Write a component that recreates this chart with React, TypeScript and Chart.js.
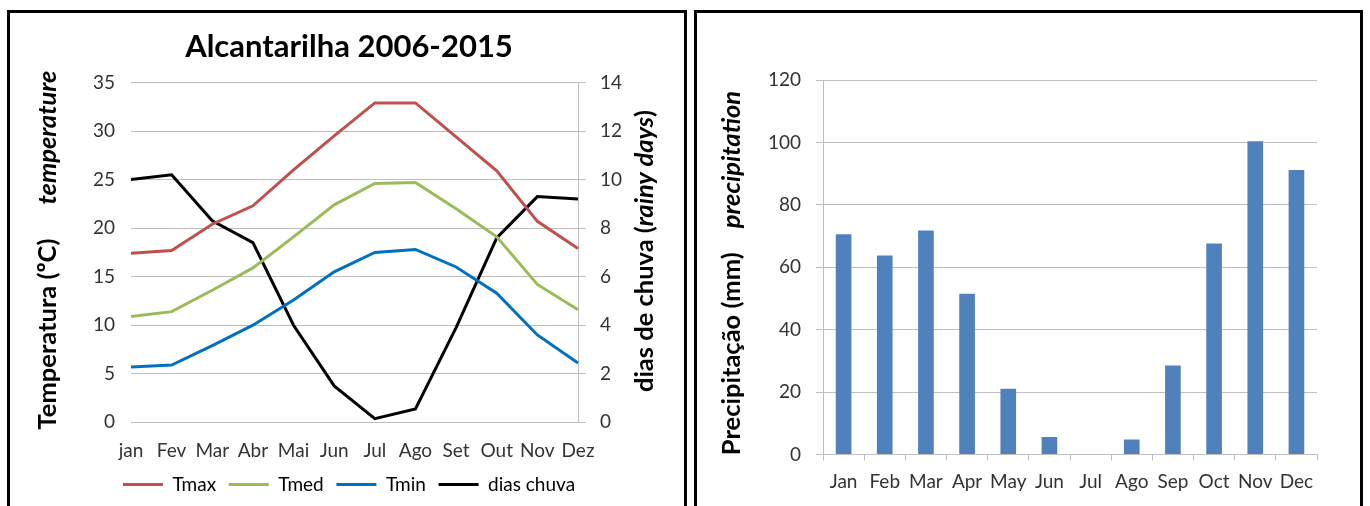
import React, { useEffect, useRef } from 'react';
import { Chart, registerables } from 'chart.js';

Chart.register(...registerables);

// ---- data ----
const monthsPT = ['jan', 'Fev', 'Mar', 'Abr', 'Mai', 'Jun', 'Jul', 'Ago', 'Set', 'Out', 'Nov', 'Dez'];
const tmax = [17.4, 17.7, 20.4, 22.3, 26.0, 29.5, 32.9, 32.9, 29.4, 25.9, 20.7, 17.9];
const tmed = [10.9, 11.4, 13.6, 15.9, 19.1, 22.4, 24.6, 24.7, 22.0, 19.1, 14.2, 11.6];
const tmin = [5.7, 5.9, 7.9, 10.0, 12.6, 15.5, 17.5, 17.8, 16.0, 13.3, 9.0, 6.1];
const diasChuva = [10.0, 10.2, 8.3, 7.4, 4.0, 1.5, 0.15, 0.55, 3.9, 7.6, 9.3, 9.2];

const monthsEN = ['Jan', 'Feb', 'Mar', 'Apr', 'May', 'Jun', 'Jul', 'Ago', 'Sep', 'Oct', 'Nov', 'Dec'];
const precipitation = [70.6, 63.8, 71.8, 51.5, 21.1, 5.6, 0, 4.8, 28.5, 67.6, 100.4, 91.2];

const tempTicks = [0, 5, 10, 15, 20, 25, 30, 35];
const rainDayTicks = [0, 2, 4, 6, 8, 10, 12, 14];
const precipTicks = [0, 20, 40, 60, 80, 100, 120];

// ---- styles ----
const RED = '#C0504D';
const GREEN = '#9BBB59';
const BLUE_LINE = '#0070C0';
const BAR_BLUE = '#4F81BD';
const GRID = '#bfbfbf';
const TICK = '#333333';
const FAMILY = 'Lato';
const tickFont = { family: FAMILY, size: 19 };

type Part = { text: string; italic?: boolean; gap?: number };
type VTitle = { x: number; y: number; size: number; parts: Part[] };

function makeTitlePlugin(id: string, titles: VTitle[]) {
  return {
    id,
    afterDraw(chart: any) {
      const ctx = chart.ctx as CanvasRenderingContext2D;
      for (const t of titles) {
        ctx.save();
        ctx.translate(t.x, t.y);
        ctx.rotate(-Math.PI / 2);
        ctx.textBaseline = 'middle';
        ctx.textAlign = 'left';
        ctx.fillStyle = '#000';
        const fonts = t.parts.map(p => `${p.italic ? 'italic ' : ''}bold ${t.size}px ${FAMILY}`);
        const widths = t.parts.map((p, i) => {
          ctx.font = fonts[i];
          return ctx.measureText(p.text).width + (p.gap || 0);
        });
        const total = widths.reduce((a, b) => a + b, 0);
        let x = -total / 2;
        t.parts.forEach((p, i) => {
          x += p.gap || 0;
          ctx.font = fonts[i];
          ctx.fillText(p.text, x, 0);
          x += widths[i] - (p.gap || 0);
        });
        ctx.restore();
      }
    },
  };
}

function fixedTicks(values: number[]) {
  return (scale: any) => {
    scale.ticks = values.map(v => ({ value: v }));
  };
}

export default function App() {
  const leftRef = useRef<HTMLCanvasElement>(null);
  const rightRef = useRef<HTMLCanvasElement>(null);

  useEffect(() => {
    const lineDs = (label: string, data: number[], color: string, axis: string) => ({
      label,
      data,
      borderColor: color,
      backgroundColor: color,
      borderWidth: 3,
      pointRadius: 0,
      tension: 0,
      yAxisID: axis,
    });

    const leftTitles = makeTitlePlugin('leftTitles', [
      { x: 38, y: 237, size: 25.5, parts: [{ text: 'Temperatura (ºC)' }, { text: 'temperature', italic: true, gap: 34 }] },
      { x: 635, y: 238, size: 25.5, parts: [{ text: 'dias de chuva (' }, { text: 'rainy days', italic: true }, { text: ')' }] },
    ]);

    const c1 = new Chart(leftRef.current as HTMLCanvasElement, {
      type: 'line',
      data: {
        labels: monthsPT,
        datasets: [
          lineDs('Tmax', tmax, RED, 'y'),
          lineDs('Tmed', tmed, GREEN, 'y'),
          lineDs('Tmin', tmin, BLUE_LINE, 'y'),
          lineDs('dias chuva', diasChuva, '#000', 'y1'),
        ],
      },
      options: {
        animation: false,
        responsive: false,
        devicePixelRatio: 1,
        layout: { padding: { left: 4, right: 0, top: 0, bottom: 2 } },
        plugins: {
          title: {
            display: true,
            text: 'Alcantarilha 2006-2015',
            color: '#000',
            font: { family: FAMILY, size: 31, weight: 'bold' },
            padding: { top: 15.5, bottom: 16.8 },
          },
          legend: {
            position: 'bottom',
            labels: {
              boxWidth: 40,
              boxHeight: 3,
              padding: 12.7,
              color: '#000',
              font: { family: FAMILY, size: 19 },
              generateLabels: (chart: any) =>
                Chart.defaults.plugins.legend.labels.generateLabels(chart).map((it: any) => ({ ...it, lineWidth: 0 })),
            },
          },
          tooltip: { enabled: false },
        },
        scales: {
          x: {
            grid: { display: false, drawTicks: false },
            border: { display: false },
            ticks: { padding: 17, color: TICK, font: tickFont, maxRotation: 0, autoSkip: false },
            afterFit: (s: any) => { s.height = 40; },
          },
          y: {
            position: 'left',
            min: 0,
            max: 35,
            grid: { color: GRID, drawTicks: false },
            border: { display: false },
            ticks: { padding: 16, color: TICK, font: tickFont },
            afterBuildTicks: fixedTicks(tempTicks),
            afterFit: (s: any) => { s.width = 117; },
          },
          y1: {
            position: 'right',
            min: 0,
            max: 14,
            grid: { drawOnChartArea: false, color: GRID, tickLength: 8 },
            border: { display: true, color: GRID },
            ticks: { padding: 14, color: TICK, font: tickFont },
            afterBuildTicks: fixedTicks(rainDayTicks),
            afterFit: (s: any) => { s.width = 106; },
          },
        },
      },
      plugins: [leftTitles],
    } as any);

    const rightTitles = makeTitlePlugin('rightTitles', [
      { x: 35, y: 260, size: 25.5, parts: [{ text: 'Precipitação (mm)' }, { text: 'precipitation', italic: true, gap: 24 }] },
    ]);

    const c2 = new Chart(rightRef.current as HTMLCanvasElement, {
      type: 'bar',
      data: {
        labels: monthsEN,
        datasets: [
          {
            label: 'Precipitação',
            data: precipitation,
            backgroundColor: BAR_BLUE,
            barPercentage: 0.38,
            categoryPercentage: 1,
          },
        ],
      },
      options: {
        animation: false,
        responsive: false,
        devicePixelRatio: 1,
        layout: { padding: { left: 0, right: 43, top: 67, bottom: 12.7 } },
        plugins: {
          legend: { display: false },
          title: { display: false },
          tooltip: { enabled: false },
        },
        scales: {
          x: {
            grid: { display: true, drawOnChartArea: false, offset: true, color: GRID, tickLength: 6 },
            border: { display: true, color: GRID },
            ticks: { padding: 10, color: TICK, font: tickFont, maxRotation: 0, autoSkip: false },
            afterFit: (s: any) => { s.height = 38.8; },
          },
          y: {
            min: 0,
            max: 120,
            grid: { color: GRID, tickLength: 7 },
            border: { display: true, color: GRID },
            ticks: { padding: 15, color: TICK, font: tickFont },
            afterBuildTicks: fixedTicks(precipTicks),
            afterFit: (s: any) => { s.width = 126; },
          },
        },
      },
      plugins: [rightTitles],
    } as any);

    return () => {
      c1.destroy();
      c2.destroy();
    };
  }, []);

  return (
    <div style={{ position: 'absolute', left: 0, top: 0, width: 1370, height: 506, overflow: 'hidden', background: '#fff' }}>
      <div style={{ position: 'absolute', left: 7, top: 10, width: 680, height: 520, border: '3px solid #000', boxSizing: 'border-box' }} />
      <div style={{ position: 'absolute', left: 694, top: 10, width: 669, height: 520, border: '3px solid #000', boxSizing: 'border-box' }} />
      <canvas ref={leftRef} width={674} height={493} style={{ position: 'absolute', left: 10, top: 13 }} />
      <canvas ref={rightRef} width={663} height={493} style={{ position: 'absolute', left: 697, top: 13 }} />
    </div>
  );
}
